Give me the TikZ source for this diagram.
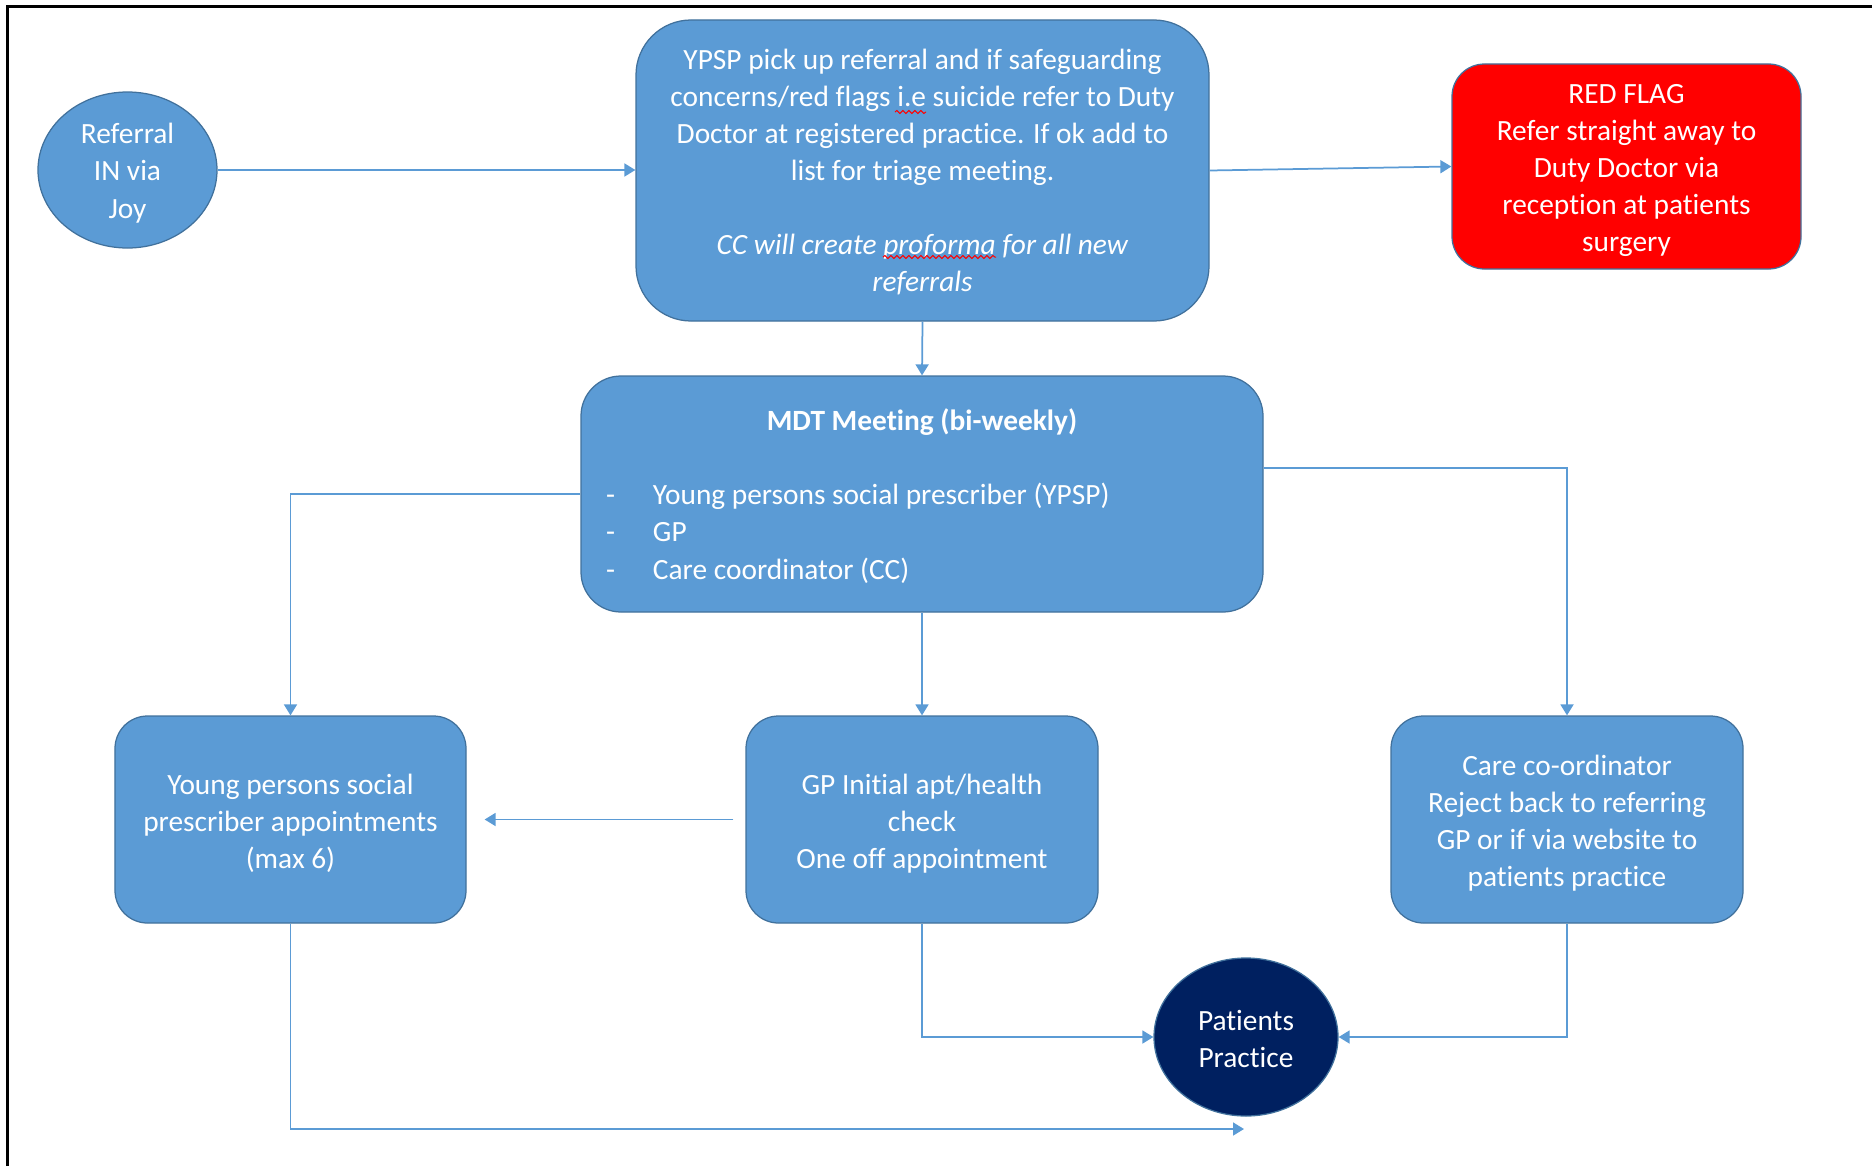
\documentclass[tikz,border=0pt]{standalone}
\usepackage{fontspec}
\setmainfont[Ligatures=NoCommon]{Carlito}
\usetikzlibrary{arrows.meta,shapes.geometric,decorations.pathmorphing,calc}
\definecolor{boxblue}{HTML}{5B9BD5}
\definecolor{boxedge}{HTML}{41719C}
\definecolor{navyfill}{HTML}{002060}
\definecolor{flagred}{HTML}{FF0000}
% #1 = twice the downward shift of the text block
\newcommand\boxtext[2]{\vbox{\kern#1\hbox{\begin{tabular}{@{}c@{}}#2\end{tabular}}}}
\tikzset{
  box/.style={draw=boxedge, fill=boxblue, line width=0.5pt, text=white,
    font=\fontsize{11.75pt}{14.85pt}\selectfont, inner sep=0pt},
  oval/.style={box, ellipse, inner sep=-4pt},
  conn/.style={draw=boxblue, line width=0.7pt, -{Triangle[length=4.4pt,width=5.2pt]}},
  squig/.style={draw=red, line width=0.4pt, decorate, decoration={snake, amplitude=0.6pt, segment length=2.4pt}},
  frame/.style={draw=black, line width=1.2pt}
}
\begin{document}
\begin{tikzpicture}[x=0.4pt, y=-0.4pt]
\useasboundingbox (0,0) rectangle (1872,1166);
\draw[frame] (7,1166) -- (7,6) -- (1872,6);

\node[oval, minimum width=71.6pt, minimum height=62.4pt] (ref) at (127.5,170)
 {\boxtext{2.8pt}{Referral\\IN via\\Joy}};

\node[box, rounded corners=22pt, minimum width=229.2pt, minimum height=120.4pt] (ypsp) at (922.5,170.5)
 {\boxtext{1.8pt}{YPSP pick up referral and if safeguarding\\concerns/red flags i.e suicide refer to Duty\\Doctor at registered practice. If ok add to\\list for triage meeting.\\[14.6pt]\textit{CC will create proforma for all new}\\\textit{referrals}}};

\node[box, fill=flagred, rounded corners=13pt, minimum width=139.6pt, minimum height=82pt] (red) at (1626.5,166.5)
 {\boxtext{3pt}{RED FLAG\\Refer straight away to\\Duty Doctor via\\reception at patients\\surgery}};

\node[box, rounded corners=16pt, minimum width=272.8pt, minimum height=94.4pt] (mdt) at (922,494)
 {\vbox{\kern1.6pt\hbox{\begin{minipage}{252.8pt}
 {\centering\textbf{MDT Meeting (bi-weekly)}\par}
 \vspace{14.85pt}
 \raggedright
 \makebox[18.8pt][l]{-}Young persons social prescriber (YPSP)\par
 \makebox[18.8pt][l]{-}GP\par
 \makebox[18.8pt][l]{-}Care coordinator (CC)
 \end{minipage}}}};

\node[box, rounded corners=13pt, minimum width=140.4pt, minimum height=82.8pt] (yps) at (290.5,819.5)
 {\boxtext{3.6pt}{Young persons social\\prescriber appointments\\(max 6)}};
\node[box, rounded corners=13pt, minimum width=140.8pt, minimum height=82.8pt] (gp) at (922,819.5)
 {\boxtext{3.6pt}{GP Initial apt/health\\check\\One off appointment}};
\node[box, rounded corners=13pt, minimum width=140.8pt, minimum height=82.8pt] (care) at (1567,819.5)
 {\boxtext{3.2pt}{Care co-ordinator\\Reject back to referring\\GP or if via website to\\patients practice}};

\node[oval, fill=navyfill, minimum width=73.6pt, minimum height=63.2pt] (pat) at (1246,1037)
 {\boxtext{3.6pt}{Patients\\Practice}};

\coordinate (pend) at (1244,1129);

\draw[squig] (895,112) -- (926,112);
\draw[squig] (883,257) -- (996,257);

\draw[conn] (ref.east) -- (ref.east -| ypsp.west);
\draw[conn] (ypsp.east) -- (red.west);
\draw[conn] (ypsp.south) -- (mdt.north);
\draw[conn] (mdt.west) -| (yps.north);
\draw[conn] ($(mdt.east)+(0,-26)$) -| (care.north);
\draw[conn] (mdt.south) -- (gp.north);
\draw[conn, shorten <=4.8pt, shorten >=7.2pt] (gp.west) -- (gp.west -| yps.east);
\draw[conn] (gp.south) |- (pat.west);
\draw[conn] (care.south) |- (pat.east);
\draw[conn] (yps.south) |- (pend);
\end{tikzpicture}
\end{document}
